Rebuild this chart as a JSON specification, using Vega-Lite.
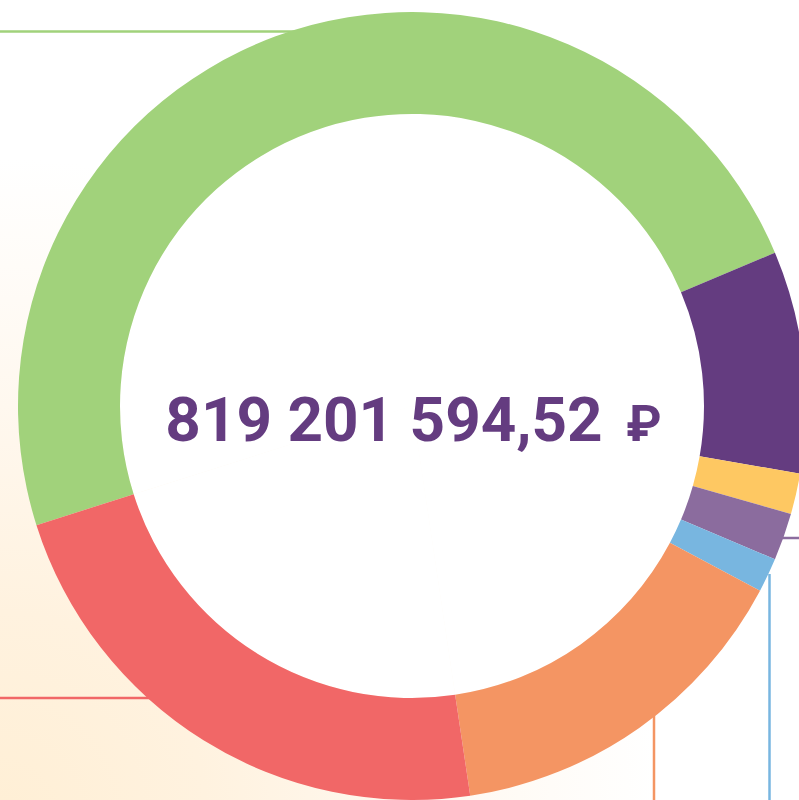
{
  "$schema": "https://vega.github.io/schema/vega-lite/v6.json",
  "width": 824,
  "height": 812,
  "autosize": {"type": "none"},
  "padding": {"left": 0, "top": 0, "right": -25, "bottom": -12},
  "background": "#ffffff",
  "config": {"view": {"stroke": null}},
  "datasets": {
    "parts": [
      {"cat": "Статья 1", "value": 397540000, "ord": 1},
      {"cat": "Статья 2", "value": 74640000, "ord": 2},
      {"cat": "Статья 3", "value": 13650000, "ord": 3},
      {"cat": "Статья 4", "value": 15930000, "ord": 4},
      {"cat": "Статья 5", "value": 11490000, "ord": 5},
      {"cat": "Статья 6", "value": 121860000, "ord": 6},
      {"cat": "Статья 7", "value": 184091594.52, "ord": 7}
    ],
    "leaders": [
      {"cat": "Статья 1", "x1": -412, "x2": -110, "y1": 374.5, "y2": 374.5},
      {"cat": "Статья 7", "x1": -412, "x2": -250, "y1": -292, "y2": -292},
      {"cat": "Статья 6", "x1": 242, "x2": 242, "y1": -300, "y2": -406},
      {"cat": "Статья 5", "x1": 357.5, "x2": 357.5, "y1": -168, "y2": -406},
      {"cat": "Статья 4", "x1": 368, "x2": 412, "y1": -132, "y2": -132}
    ],
    "bg": [{"k": 1}],
    "label": [{"amount": "819 201 594,52", "cur": "₽"}]
  },
  "layer": [
    {
      "data": {"name": "bg"},
      "mark": {
        "type": "rect",
        "color": {
          "gradient": "radial",
          "x1": 0, "y1": 1, "r1": 0,
          "x2": 0, "y2": 1, "r2": 1,
          "stops": [
            {"offset": 0, "color": "#ffefd5"},
            {"offset": 0.25, "color": "#fff2df"},
            {"offset": 0.5, "color": "#fff8ef"},
            {"offset": 0.8, "color": "#ffffff"}
          ]
        }
      },
      "encoding": {}
    },
    {
      "data": {"name": "leaders"},
      "mark": {"type": "rule", "strokeWidth": 2.5},
      "encoding": {
        "x": {"field": "x1", "type": "quantitative", "scale": {"domain": [-412, 412], "nice": false, "zero": false}, "axis": null},
        "x2": {"field": "x2"},
        "y": {"field": "y1", "type": "quantitative", "scale": {"domain": [-406, 406], "nice": false, "zero": false}, "axis": null},
        "y2": {"field": "y2"},
        "color": {
          "field": "cat", "type": "nominal", "legend": null,
          "scale": {
            "domain": ["Статья 1", "Статья 2", "Статья 3", "Статья 4", "Статья 5", "Статья 6", "Статья 7"],
            "range": ["#a1d27b", "#643c80", "#fec862", "#8b6c9e", "#78b6e0", "#f49563", "#f16767"]
          }
        }
      }
    },
    {
      "data": {"name": "parts"},
      "mark": {"type": "arc", "outerRadius": 292, "innerRadius": 0, "color": "#ffffff"},
      "encoding": {
        "theta": {"field": "value", "type": "quantitative", "stack": true, "scale": {"range": [4.4052, 10.6884]}},
        "order": {"field": "ord", "type": "quantitative"}
      }
    },
    {
      "data": {"name": "parts"},
      "mark": {"type": "arc", "outerRadius": 394, "innerRadius": 292},
      "encoding": {
        "theta": {"field": "value", "type": "quantitative", "stack": true, "scale": {"range": [4.4052, 10.6884]}},
        "order": {"field": "ord", "type": "quantitative"},
        "color": {
          "field": "cat", "type": "nominal", "legend": null,
          "scale": {
            "domain": ["Статья 1", "Статья 2", "Статья 3", "Статья 4", "Статья 5", "Статья 6", "Статья 7"],
            "range": ["#a1d27b", "#643c80", "#fec862", "#8b6c9e", "#78b6e0", "#f49563", "#f16767"]
          }
        }
      }
    },
    {
      "data": {"name": "label"},
      "mark": {
        "type": "text",
        "font": "Roboto",
        "fontWeight": "bold",
        "fontSize": 62,
        "color": "#643c80",
        "align": "center",
        "baseline": "alphabetic",
        "dx": -28,
        "dy": 35
      },
      "encoding": {"text": {"field": "amount"}}
    },
    {
      "data": {"name": "label"},
      "mark": {
        "type": "text",
        "font": "Roboto",
        "fontWeight": "bold",
        "fontSize": 50,
        "color": "#643c80",
        "align": "center",
        "baseline": "alphabetic",
        "dx": 232,
        "dy": 35
      },
      "encoding": {"text": {"field": "cur"}}
    }
  ]
}
